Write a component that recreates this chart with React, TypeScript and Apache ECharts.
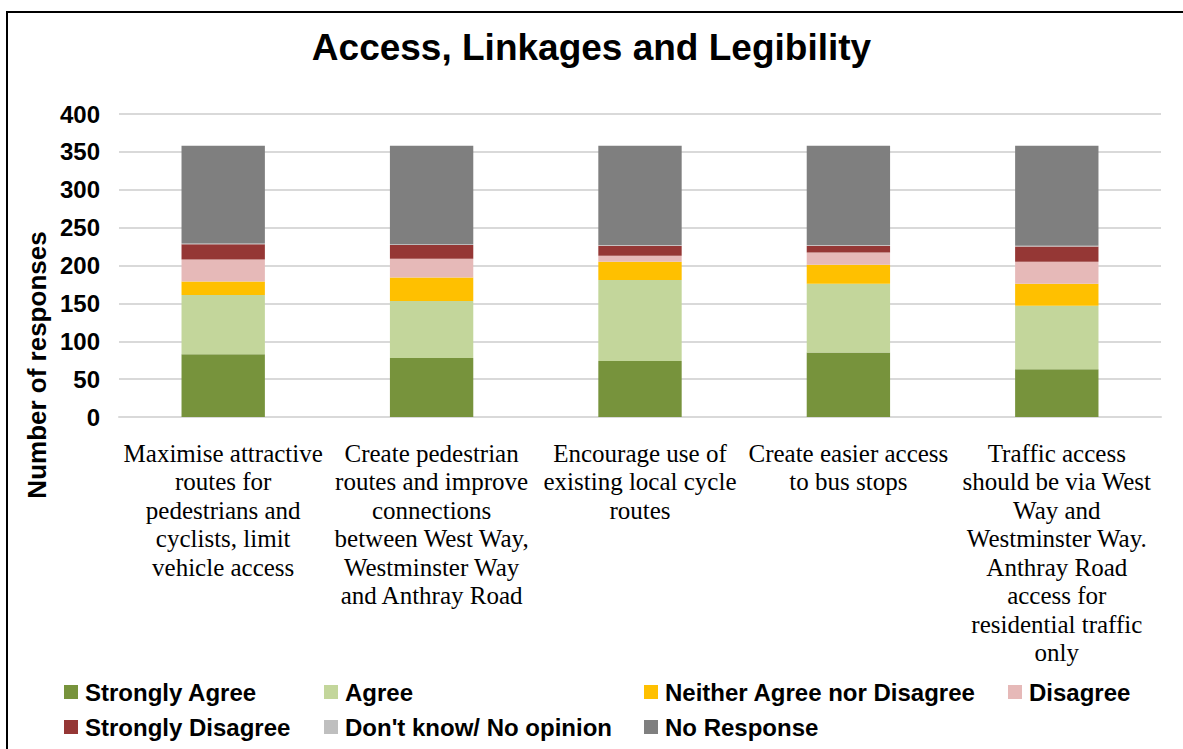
import React, { useEffect, useRef } from "react";
import * as echarts from "echarts";

const categories = [
  "Maximise attractive\nroutes for\npedestrians and\ncyclists, limit\nvehicle access",
  "Create pedestrian\nroutes and improve\nconnections\nbetween West Way,\nWestminster Way\nand Anthray Road",
  "Encourage use of\nexisting local cycle\nroutes",
  "Create easier access\nto bus stops",
  "Traffic access\nshould be via West\nWay and\nWestminster Way.\nAnthray Road\naccess for\nresidential traffic\nonly",
];

const seriesNames = [
  "Strongly Agree",
  "Agree",
  "Neither Agree nor Disagree",
  "Disagree",
  "Strongly Disagree",
  "Don't know/ No opinion",
  "No Response",
];
const seriesColors = ["#77933C", "#C3D69B", "#FFC000", "#E6B9B8", "#953735", "#BFBFBF", "#7F7F7F"];

const stronglyAgree = [83, 78, 74, 85, 63];
const agree = [78, 75, 107, 91, 84];
const neither = [18, 31, 24, 25, 29];
const disagree = [29, 25, 8, 16, 29];
const stronglyDisagree = [20, 18, 13, 9, 20];
const dontKnow = [1, 1, 1, 1, 1];
const noResponse = [129, 130, 131, 131, 132];

const seriesValues = [stronglyAgree, agree, neither, disagree, stronglyDisagree, dontKnow, noResponse];

const yTicks = { min: 0, max: 400, interval: 50 };

const legendPos = [
  { left: 64, top: 680 },
  { left: 324, top: 680 },
  { left: 644, top: 680 },
  { left: 1008, top: 680 },
  { left: 64, top: 715 },
  { left: 324, top: 715 },
  { left: 644, top: 715 },
];

export default function App() {
  const ref = useRef<HTMLDivElement>(null);
  useEffect(() => {
    if (!ref.current) return;
    const chart = echarts.init(ref.current, undefined, { renderer: "svg" });
    const sans = "Liberation Sans, Arial, sans-serif";
    chart.setOption({
      animation: false,
      backgroundColor: "#ffffff",
      title: {
        text: "Access, Linkages and Legibility",
        left: "center",
        top: 24,
        textStyle: { fontFamily: sans, fontWeight: "bold", fontSize: 37, color: "#000" },
      },
      legend: seriesNames.map((n, i) => ({
        data: [n],
        left: legendPos[i].left,
        top: legendPos[i].top,
        padding: 0,
        itemWidth: 14,
        itemHeight: 14,
        icon: "rect",
        selectedMode: false,
        textStyle: { fontFamily: sans, fontWeight: "bold", fontSize: 24, color: "#000", padding: [0, 0, 0, 2] },
      })),
      grid: { left: 119, right: 22, top: 114, bottom: 332 },
      xAxis: {
        type: "category",
        data: categories,
        axisLine: { lineStyle: { color: "#D9D9D9", width: 2 } },
        axisTick: { show: false },
        axisLabel: {
          interval: 0,
          margin: 22,
          fontFamily: "Liberation Serif, Times New Roman, serif",
          fontSize: 25,
          lineHeight: 28.5,
          color: "#000",
          align: "center",
        },
      },
      yAxis: {
        type: "value",
        min: yTicks.min,
        max: yTicks.max,
        interval: yTicks.interval,
        axisLine: { show: false },
        axisTick: { show: false },
        splitLine: { lineStyle: { color: "#D9D9D9", width: 2 } },
        axisLabel: { margin: 19, fontFamily: sans, fontWeight: "bold", fontSize: 24, color: "#000" },
      },
      graphic: [
        {
          type: "rect",
          shape: { x: 7, y: 12, width: 1200, height: 800 },
          style: { fill: "none", stroke: "#000", lineWidth: 2 },
          silent: true,
        },
        {
          type: "text",
          x: 37,
          y: 365,
          rotation: Math.PI / 2,
          style: {
            text: "Number of responses",
            fontFamily: sans,
            fontWeight: "bold",
            fontSize: 26,
            fill: "#000",
            align: "center",
            verticalAlign: "middle",
          },
        },
      ],
      series: seriesNames.map((n, i) => ({
        name: n,
        type: "bar",
        stack: "total",
        barWidth: "40%",
        data: seriesValues[i],
        itemStyle: { color: seriesColors[i] },
      })),
    });
    return () => chart.dispose();
  }, []);
  return <div ref={ref} style={{ position: "fixed", left: 0, top: 0, width: 1183, height: 749 }} />;
}
